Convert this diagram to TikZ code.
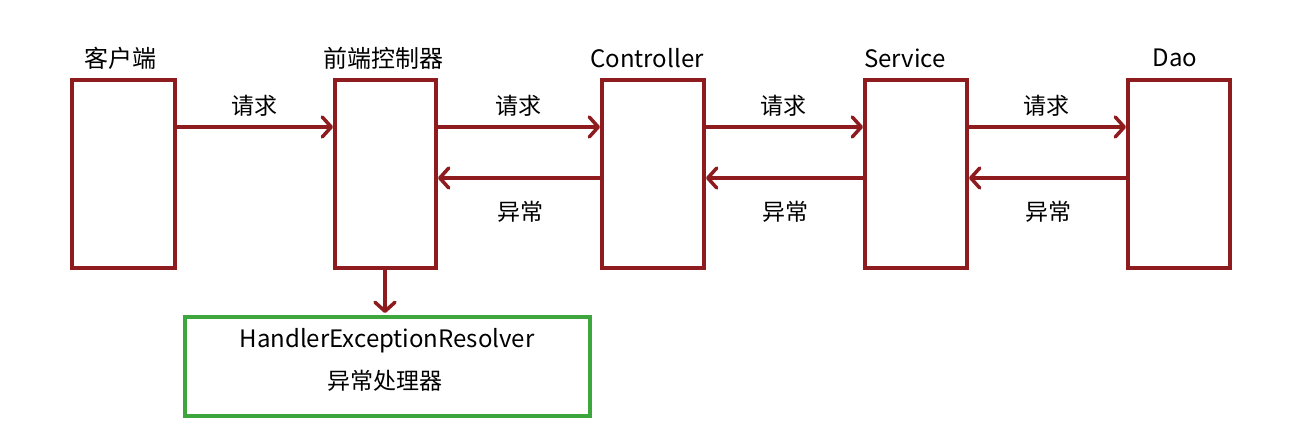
\documentclass[tikz,border=0pt]{standalone}
\usepackage{fontspec}
\setmainfont{Noto Sans CJK SC}
\usetikzlibrary{arrows.meta}
\definecolor{dred}{HTML}{8E1B1E}
\definecolor{dgreen}{HTML}{3DA63D}
\begin{document}
\begin{tikzpicture}[x=1pt,y=-1pt,
  box/.style={draw=dred,line width=3.5pt},
  conn/.style={draw=dred,line width=3.5pt,-{Straight Barb[length=9pt,width=20pt,round]}},
  lab/.style={font=\fontsize{23}{26}\selectfont},
  tit/.style={font=\fontsize{24}{28}\selectfont}]
\useasboundingbox (0,0) rectangle (1294,425);
\foreach \n/\a/\b/\t/\x in {c/72/175/客户端/120,f/335/436/前端控制器/383,k/602/704/Controller/647,s/865/967/Service/905,d/1128/1230/Dao/1175}{
  \draw[box] (\a,80) rectangle (\b,268);
  \coordinate (\n tl) at (\a-2,127); \coordinate (\n tr) at (\b,127);
  \coordinate (\n bl) at (\a,178); \coordinate (\n br) at (\b+2,178);
  \node[tit] (\n t) at (\x,58) {\t};
}
\draw[conn] (ctr) -- (ftl) node[lab,midway,above=6pt] {请求};
\draw[conn] (ftr) -- (ktl) node[lab,midway,above=6pt] {请求};
\draw[conn] (ktr) -- (stl) node[lab,midway,above=6pt] {请求};
\draw[conn] (str) -- (dtl) node[lab,midway,above=6pt] {请求};
\draw[conn] (kbl) -- (fbr) node[lab,midway,below=18pt] {异常};
\draw[conn] (sbl) -- (kbr) node[lab,midway,below=18pt] {异常};
\draw[conn] (dbl) -- (sbr) node[lab,midway,below=18pt] {异常};
\draw[draw=dgreen,line width=3.5pt] (185,317) rectangle (590,416);
\coordinate (fb) at (385,268); \coordinate (gt) at (385,313);
\draw[conn] (fb) -- (gt);
\node[tit] (h) at (387,341) {HandlerExceptionResolver};
\node[lab] (h2) at (385,381) {异常处理器};
\end{tikzpicture}
\end{document}
